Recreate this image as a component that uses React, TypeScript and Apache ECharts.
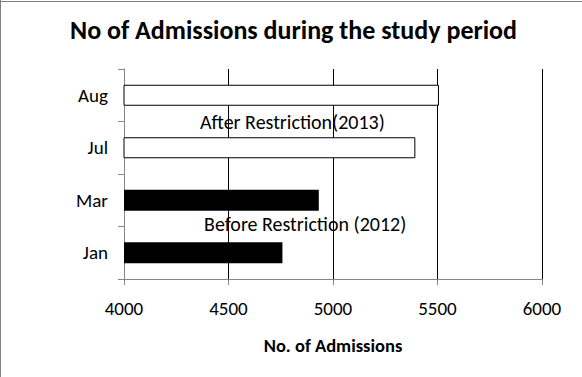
import React, { useEffect, useRef } from "react";
import * as echarts from "echarts";

const categories = ["Jan", "Mar", "Jul", "Aug"];
const admissions = [4758, 4932, 5394, 5507];
const periods = ["before", "before", "after", "after"];
const xTicks = { min: 4000, max: 6000, interval: 500 };
const annotations = [
  { text: "After Restriction(2013)", x: 200, y: 124 },
  { text: "Before Restriction (2012)", x: 204, y: 226 },
];

const FONT = "Carlito, Calibri, Lato, sans-serif";

export default function App() {
  const ref = useRef<HTMLDivElement>(null);
  useEffect(() => {
    if (!ref.current) return;
    const chart = echarts.init(ref.current, undefined, { renderer: "svg" });
    const data = admissions.map((v, i) => ({
      value: v,
      itemStyle:
        periods[i] === "before"
          ? { color: "#000000", borderColor: "#000000", borderWidth: 0 }
          : { color: "#ffffff", borderColor: "#000000", borderWidth: 1 },
    }));
    chart.setOption({
      animation: false,
      backgroundColor: "#ffffff",
      title: {
        text: "No of Admissions during the study period",
        left: 70,
        top: 17,
        padding: 0,
        textStyle: { fontFamily: FONT, fontWeight: "bold", fontSize: 26, color: "#000" },
      },
      grid: { left: 124, top: 69, width: 418, height: 210, containLabel: false },
      xAxis: {
        type: "value",
        min: xTicks.min,
        max: xTicks.max,
        interval: xTicks.interval,
        name: "No. of Admissions",
        nameLocation: "middle",
        nameGap: 57,
        nameTextStyle: { fontFamily: FONT, fontWeight: "bold", fontSize: 18.5, color: "#000" },
        axisLine: { show: true, lineStyle: { color: "#868686", width: 1 } },
        axisTick: { show: true, length: 6, lineStyle: { color: "#868686" } },
        axisLabel: {
          fontFamily: FONT,
          fontSize: 19,
          color: "#000",
          margin: 20,
          formatter: (v: number) => String(v),
        },
        splitLine: { show: true, showMinLine: false, lineStyle: { color: "#000", width: 1 } },
      },
      yAxis: {
        type: "category",
        data: categories,
        axisLine: { show: true, lineStyle: { color: "#868686", width: 1 } },
        axisTick: { show: true, length: 6, lineStyle: { color: "#868686" } },
        axisLabel: { fontFamily: FONT, fontSize: 19, color: "#000", margin: 16 },
        splitLine: { show: false },
      },
      series: [
        {
          type: "bar",
          data,
          barWidth: 21,
        },
      ],
      graphic: [
        ...annotations.map((a) => ({
          type: "text",
          left: a.x,
          top: a.y - 12,
          style: {
            text: a.text,
            fontFamily: FONT,
            fontSize: 20,
            fill: "#000",
          },
          z: 100,
        })),
        {
          type: "line",
          shape: { x1: 0, y1: 1.5, x2: 582, y2: 1.5 },
          style: { stroke: "#808080", lineWidth: 1 },
        },
        {
          type: "line",
          shape: { x1: 0.5, y1: 0, x2: 0.5, y2: 377 },
          style: { stroke: "#808080", lineWidth: 1 },
        },
      ],
    });
    return () => chart.dispose();
  }, []);
  return (
    <div
      ref={ref}
      style={{ position: "fixed", left: 0, top: 0, width: 582, height: 377 }}
    />
  );
}
